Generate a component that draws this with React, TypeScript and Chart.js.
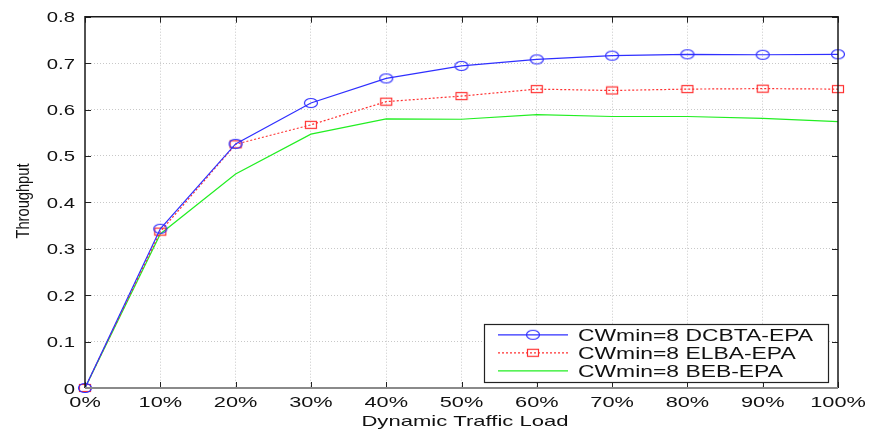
import React, { useEffect, useRef } from "react";
import { Chart, registerables } from "chart.js";

Chart.register(...registerables);

const loads = [0, 10, 20, 30, 40, 50, 60, 70, 80, 90, 100];
const dcbta = [0, 0.343, 0.526, 0.614, 0.667, 0.694, 0.708, 0.716, 0.719, 0.718, 0.719];
const elba = [0, 0.337, 0.525, 0.567, 0.617, 0.629, 0.644, 0.641, 0.644, 0.645, 0.644];
const beb = [0, 0.332, 0.461, 0.547, 0.580, 0.579, 0.589, 0.585, 0.585, 0.581, 0.574];
const seriesLabels = ["CWmin=8 DCBTA-EPA", "CWmin=8 ELBA-EPA", "CWmin=8 BEB-EPA"];
const xTitle = "Dynamic Traffic Load";
const yTitle = "Throughput";

const BLUE = "#2f2fff";
const RED = "#ff3030";
const GREEN = "#22ee22";
const FONT = "'Liberation Sans', Arial, sans-serif";

function makeEllipse(): HTMLCanvasElement {
  const c = document.createElement("canvas");
  c.width = 16;
  c.height = 12;
  const g = c.getContext("2d")!;
  g.strokeStyle = BLUE;
  g.lineWidth = 1.2;
  g.beginPath();
  g.ellipse(8, 6, 6.5, 4.5, 0, 0, Math.PI * 2);
  g.stroke();
  return c;
}

function makeRect(): HTMLCanvasElement {
  const c = document.createElement("canvas");
  c.width = 14;
  c.height = 10;
  const g = c.getContext("2d")!;
  g.strokeStyle = RED;
  g.lineWidth = 1.2;
  g.strokeRect(1.5, 1.5, 11, 7);
  return c;
}

function stretchText(
  ctx: CanvasRenderingContext2D,
  text: string,
  x: number,
  y: number,
  align: CanvasTextAlign,
  size: number,
  sx: number
) {
  ctx.save();
  ctx.translate(x, y);
  ctx.scale(sx, 1);
  ctx.font = `${size}px ${FONT}`;
  ctx.textAlign = align;
  ctx.textBaseline = "alphabetic";
  ctx.fillStyle = "#111";
  ctx.fillText(text, 0, 0);
  ctx.restore();
}

export default function App() {
  const ref = useRef<HTMLCanvasElement>(null);

  useEffect(() => {
    if (!ref.current) return;
    const ellipse = makeEllipse();
    const rect = makeRect();
    const markers: (HTMLCanvasElement | null)[] = [ellipse, rect, null];
    const colors = [BLUE, RED, GREEN];
    const dashes = [[], [2, 2], []];

    const decor = {
      id: "matlabDecor",
      afterDraw(chart: any) {
        const ctx: CanvasRenderingContext2D = chart.ctx;
        const a = chart.chartArea;
        const xs = chart.scales.x;
        const ys = chart.scales.y;
        ctx.save();
        // inward ticks
        ctx.strokeStyle = "#222";
        ctx.lineWidth = 1;
        const tl = 6;
        xs.ticks.forEach((t: any) => {
          const px = Math.round(xs.getPixelForValue(t.value)) + 0.5;
          ctx.beginPath();
          ctx.moveTo(px, a.bottom);
          ctx.lineTo(px, a.bottom - tl);
          ctx.moveTo(px, a.top);
          ctx.lineTo(px, a.top + tl);
          ctx.stroke();
        });
        ys.ticks.forEach((t: any) => {
          const py = Math.round(ys.getPixelForValue(t.value)) + 0.5;
          ctx.beginPath();
          ctx.moveTo(a.left, py);
          ctx.lineTo(a.left + tl, py);
          ctx.moveTo(a.right, py);
          ctx.lineTo(a.right - tl, py);
          ctx.stroke();
        });
        // box
        ctx.strokeStyle = "#1a1a1a";
        ctx.lineWidth = 1.5;
        ctx.beginPath();
        ctx.moveTo(a.left, a.bottom);
        ctx.lineTo(a.left, a.top);
        ctx.lineTo(a.right, a.top);
        ctx.lineTo(a.right, a.bottom);
        ctx.stroke();
        ctx.strokeStyle = "#8a8a8a";
        ctx.lineWidth = 2;
        ctx.beginPath();
        ctx.moveTo(a.left, a.bottom);
        ctx.lineTo(a.right, a.bottom);
        ctx.stroke();

        // tick labels
        ys.ticks.forEach((t: any) => {
          const py = ys.getPixelForValue(t.value);
          const lbl = t.value === 0 ? "0" : t.value.toFixed(1);
          stretchText(ctx, lbl, a.left - 10, py + 5.5, "right", 14, 1.45);
        });
        xs.ticks.forEach((t: any) => {
          const px = xs.getPixelForValue(t.value);
          stretchText(ctx, `${t.value}%`, px, a.bottom + 18.7, "center", 15, 1.45);
        });
        // titles
        stretchText(ctx, xTitle, 465, 425.7, "center", 15, 1.47);
        ctx.save();
        ctx.font = `19px ${FONT}`;
        const w = ctx.measureText(yTitle).width;
        const sy = 75 / w;
        ctx.translate(28.6, 201);
        ctx.rotate(-Math.PI / 2);
        ctx.scale(sy, 1);
        ctx.textAlign = "center";
        ctx.textBaseline = "alphabetic";
        ctx.fillStyle = "#111";
        ctx.fillText(yTitle, 0, 0);
        ctx.restore();

        // legend
        const lx0 = 484, lx1 = 828, ly0 = 324, ly1 = 382;
        ctx.fillStyle = "#fff";
        ctx.fillRect(lx0, ly0, lx1 - lx0, ly1 - ly0);
        ctx.strokeStyle = "#222";
        ctx.lineWidth = 1.2;
        ctx.strokeRect(lx0 + 0.5, ly0 + 0.5, lx1 - lx0, ly1 - ly0);
        const baselines = [340.5, 358.5, 376.5];
        seriesLabels.forEach((lab, i) => {
          const cy = baselines[i] - 5.7;
          ctx.save();
          ctx.strokeStyle = colors[i];
          ctx.lineWidth = 1.2;
          ctx.setLineDash(dashes[i]);
          ctx.beginPath();
          ctx.moveTo(498, cy);
          ctx.lineTo(568, cy);
          ctx.stroke();
          ctx.restore();
          const m = markers[i];
          if (m) ctx.drawImage(m, 533 - m.width / 2, cy - m.height / 2);
          stretchText(ctx, lab, 578, baselines[i], "left", 16, 1.43);
        });
        ctx.restore();
      },
    };

    const mk = (vals: number[]) => vals.map((v, i) => ({ x: loads[i], y: v }));

    const chart = new Chart(ref.current, {
      type: "line",
      data: {
        datasets: [
          {
            label: seriesLabels[0],
            data: mk(dcbta),
            borderColor: BLUE,
            borderWidth: 1.2,
            pointStyle: ellipse as any,
            pointRadius: 5,
            clip: false as any,
          },
          {
            label: seriesLabels[1],
            data: mk(elba),
            borderColor: RED,
            borderWidth: 1.2,
            borderDash: [2, 2],
            pointStyle: rect as any,
            pointRadius: 5,
            clip: false as any,
          },
          {
            label: seriesLabels[2],
            data: mk(beb),
            borderColor: GREEN,
            borderWidth: 1.2,
            pointRadius: 0,
            clip: false as any,
          },
        ],
      },
      options: {
        responsive: false,
        animation: false,
        layout: { padding: { left: 85, right: 32, top: 16.7, bottom: 43 } },
        plugins: { legend: { display: false }, tooltip: { enabled: false } },
        scales: {
          x: {
            type: "linear",
            min: 0,
            max: 100,
            ticks: { display: false, stepSize: 10 },
            grid: {
              drawTicks: false,
              color: (c: any) =>
                c.tick && (c.tick.value === 0 || c.tick.value === 100) ? "rgba(0,0,0,0)" : "#c8c8c8",
              lineWidth: 1,
            },
            border: { display: false, dash: [1, 2] },
          },
          y: {
            min: 0,
            max: 0.8,
            ticks: { display: false, stepSize: 0.1 },
            grid: {
              drawTicks: false,
              color: (c: any) =>
                c.tick && (Math.abs(c.tick.value) < 1e-9 || Math.abs(c.tick.value - 0.8) < 1e-9)
                  ? "rgba(0,0,0,0)"
                  : "#c8c8c8",
              lineWidth: 1,
            },
            border: { display: false, dash: [1, 2] },
          },
        },
      },
      plugins: [decor],
    });
    return () => chart.destroy();
  }, []);

  return (
    <div style={{ position: "absolute", left: 0, top: 0, width: 870, height: 431, background: "#fff" }}>
      <canvas ref={ref} width={870} height={431} style={{ display: "block" }} />
    </div>
  );
}
